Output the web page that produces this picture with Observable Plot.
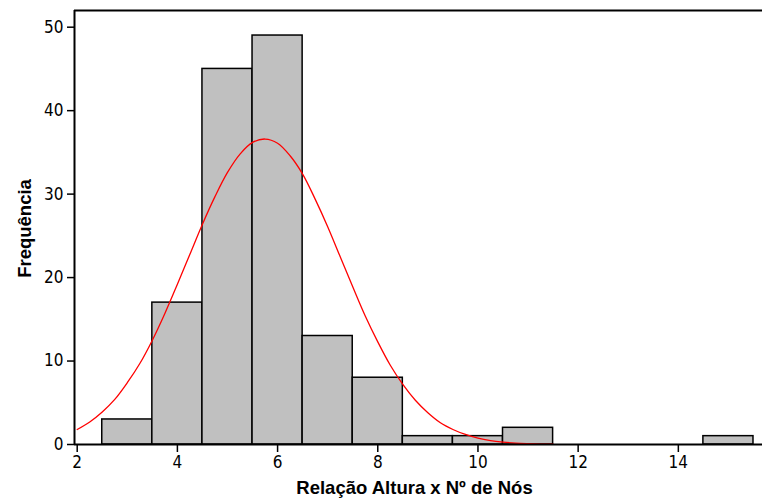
<!DOCTYPE html>
<html>
<head>
<meta charset="utf-8">
<script src="https://cdn.jsdelivr.net/npm/d3@7"></script>
<script src="https://cdn.jsdelivr.net/npm/@observablehq/plot@0.6"></script>
<style>
  html, body { margin: 0; padding: 0; background: white; }
</style>
</head>
<body>
<div id="chart"></div>
<script>
// Histogram bins (centres, width 1) and their frequencies
const binCenters = [3, 4, 5, 6, 7, 8, 9, 10, 11, 12, 13, 14, 15];
const counts     = [3, 17, 45, 49, 13, 8, 1, 1, 2, 0, 0, 0, 1];

// Fitted curve, values
const curveX = [2, 2.25, 2.5, 2.75, 3, 3.25, 3.5, 3.75, 4, 4.25, 4.5, 4.75, 5, 5.25, 5.5, 5.75,
                6, 6.25, 6.5, 6.75, 7, 7.25, 7.5, 7.75, 8, 8.25, 8.5, 8.75, 9, 9.25, 9.5, 9.75,
                10, 10.25, 10.5, 10.75, 11, 11.25, 11.5];
const curveY = [1.8, 2.7, 3.9, 5.4, 7.4, 9.7, 12.5, 15.7, 19.2, 22.8, 26.4, 29.7, 32.6, 34.8, 36.2, 36.6,
                36.1, 34.6, 32.4, 29.4, 26.1, 22.5, 18.9, 15.4, 12.3, 9.5, 7.2, 5.3, 3.8, 2.6, 1.8, 1.2,
                0.76, 0.47, 0.29, 0.17, 0.10, 0.05, 0.03];

const xTicks = [2, 4, 6, 8, 10, 12, 14];
const yTicks = [0, 10, 20, 30, 40, 50];
const xLabel = "Relação Altura x Nº de Nós";
const yLabel = "Frequência";

const bins = binCenters.map((c, i) => ({x1: c - 0.5, x2: c + 0.5, y: counts[i]})).filter(d => d.y > 0);
const curve = curveX.map((x, i) => ({x, y: curveY[i]}));

const xDomain = [1.946, 15.68];
const yDomain = [0, 52];
const titleFont = {fontFamily: "'Liberation Sans', Arial, sans-serif", fontWeight: "bold", fontSize: 18.5, fill: "black"};

const chart = Plot.plot({
  width: 762,
  height: 502,
  marginLeft: 74,
  marginRight: 0,
  marginTop: 10,
  marginBottom: 58,
  x: {domain: xDomain},
  y: {domain: yDomain},
  style: {
    fontFamily: "'DejaVu Sans Condensed', 'DejaVu Sans', sans-serif",
    fontSize: "17px",
    background: "white",
    color: "black",
    overflow: "visible"
  },
  marks: [
    Plot.rectY(bins, {x1: "x1", x2: "x2", y: "y", fill: "#c0c0c0", stroke: "black", strokeWidth: 1.5}),
    Plot.line(curve, {x: "x", y: "y", stroke: "red", strokeWidth: 1.3, curve: "catmull-rom"}),
    Plot.ruleX([xDomain[0]], {stroke: "black", strokeWidth: 2}),
    Plot.ruleY([yDomain[1]], {stroke: "black", strokeWidth: 2}),
    Plot.ruleY([0], {stroke: "black", strokeWidth: 2}),
    Plot.axisX(xTicks, {tickSize: 8, tickPadding: 3, strokeWidth: 1.5, label: null}),
    Plot.axisY(yTicks, {tickSize: 7, tickPadding: 4, strokeWidth: 1.5, label: null}),
    Plot.text([xLabel], {frameAnchor: "bottom", dy: 49, dx: -4, ...titleFont}),
    Plot.text([yLabel], {frameAnchor: "left", textAnchor: "middle", rotate: -90, dx: -49.5, dy: 1, ...titleFont})
  ]
});
document.getElementById("chart").appendChild(chart);
</script>
</body>
</html>
